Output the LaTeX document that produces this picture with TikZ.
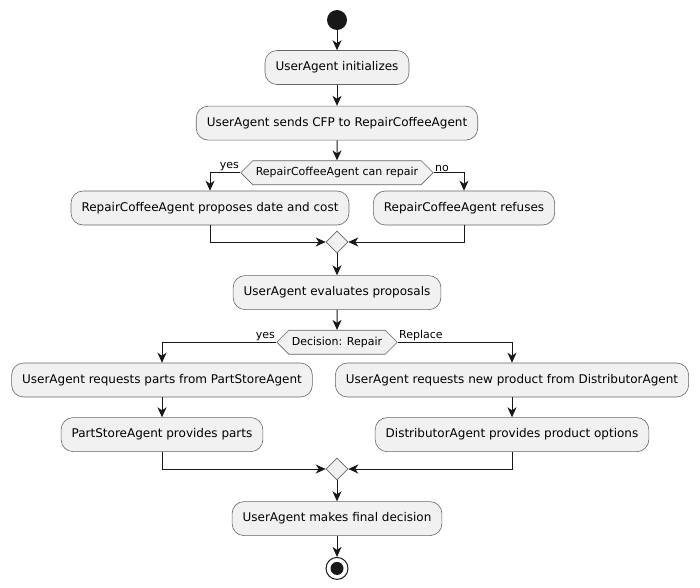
\documentclass[tikz,border=0pt]{standalone}
\usepackage{fontspec}
\setmainfont{DejaVu Sans}
\usetikzlibrary{positioning, shapes.geometric, shapes.symbols, arrows.meta}
\definecolor{actfill}{HTML}{F1F1F1}
\definecolor{lineclr}{HTML}{181818}
\tikzset{
    action/.style={
        draw=black!60,
        line width=0.6pt,
        fill=actfill,
        rounded corners=12pt,
        minimum height=34pt,
        inner xsep=10.5pt,
        font=\fontsize{12}{14}\selectfont,
    },
    choice/.style={
        draw=black!60,
        line width=0.6pt,
        fill=actfill,
        signal, signal to=west and east, signal pointer angle=90,
        minimum height=24pt,
        inner xsep=3pt, inner ysep=0pt,
        font=\fontsize{11}{13}\selectfont,
    },
    merge/.style={
        draw=black!60, line width=0.6pt, fill=actfill,
        diamond, aspect=1,
        minimum size=22pt, inner sep=0pt,
    },
    startdot/.style={circle, fill=lineclr, minimum size=20pt, inner sep=0pt},
    stopdot/.style={
        circle, draw=lineclr, line width=1pt, fill=white,
        minimum size=22pt, inner sep=0pt,
        path picture={\fill[lineclr] (path picture bounding box.center) circle (6.5pt);},
    },
    flow/.style={-{Stealth[length=10pt,width=9pt,inset=3pt]}, draw=lineclr, line width=1pt},
    guard/.style={font=\fontsize{11}{13}\selectfont, inner sep=1pt},
}
\begin{document}
\begin{tikzpicture}[x=1pt, y=-1pt, node distance=20pt]
        \useasboundingbox (0,0) rectangle (700,587);
        \node[startdot] (start) at (337,20) {};
        \node[action, below=20pt of start] (init) {UserAgent initializes};
        \node[action, below=21pt of init] (cfp) {UserAgent sends CFP to RepairCoffeeAgent};
        \node[choice, below=20pt of cfp] (canrepair) {RepairCoffeeAgent can repair};
        \node[action] (propose) at (210,208) {RepairCoffeeAgent proposes date and cost};
        \node[action] (refuse) at (464,208) {RepairCoffeeAgent refuses};
        \node[merge] (join1) at (337,242) {};
        \node[action, below=22pt of join1] (evaluate) {UserAgent evaluates proposals};
        \node[choice, below=20pt of evaluate] (repair) {Decision: Repair};
        \node[action] (parts) at (162,380) {UserAgent requests parts from PartStoreAgent};
        \node[action] (product) at (512,380) {UserAgent requests new product from DistributorAgent};
        \node[action, below=20pt of parts] (gotparts) {PartStoreAgent provides parts};
        \node[action, below=20pt of product] (options) {DistributorAgent provides product options};
        \node[merge] (join2) at (337,469) {};
        \node[action, below=21pt of join2] (final) {UserAgent makes final decision};
        \node[stopdot, below=21pt of final] (stop) {};
        \draw[flow] (start) to (init);
        \draw[flow] (init) to (cfp);
        \draw[flow] (cfp) to (canrepair);
        \draw[flow] (canrepair.west) node[guard, above left] {yes} -| (propose.north);
        \draw[flow] (canrepair.east) node[guard, above right] {no} -| (refuse.north);
        \draw[flow] (propose.south) |- (join1.west);
        \draw[flow] (refuse.south) |- (join1.east);
        \draw[flow] (join1) to (evaluate);
        \draw[flow] (evaluate) to (repair);
        \draw[flow] (repair.west) node[guard, above left] {yes} -| (parts.north);
        \draw[flow] (repair.east) node[guard, above right] {Replace} -| (product.north);
        \draw[flow] (parts) to (gotparts);
        \draw[flow] (product) to (options);
        \draw[flow] (gotparts.south) |- (join2.west);
        \draw[flow] (options.south) |- (join2.east);
        \draw[flow] (join2) to (final);
        \draw[flow] (final) to (stop);
\end{tikzpicture}
\end{document}
